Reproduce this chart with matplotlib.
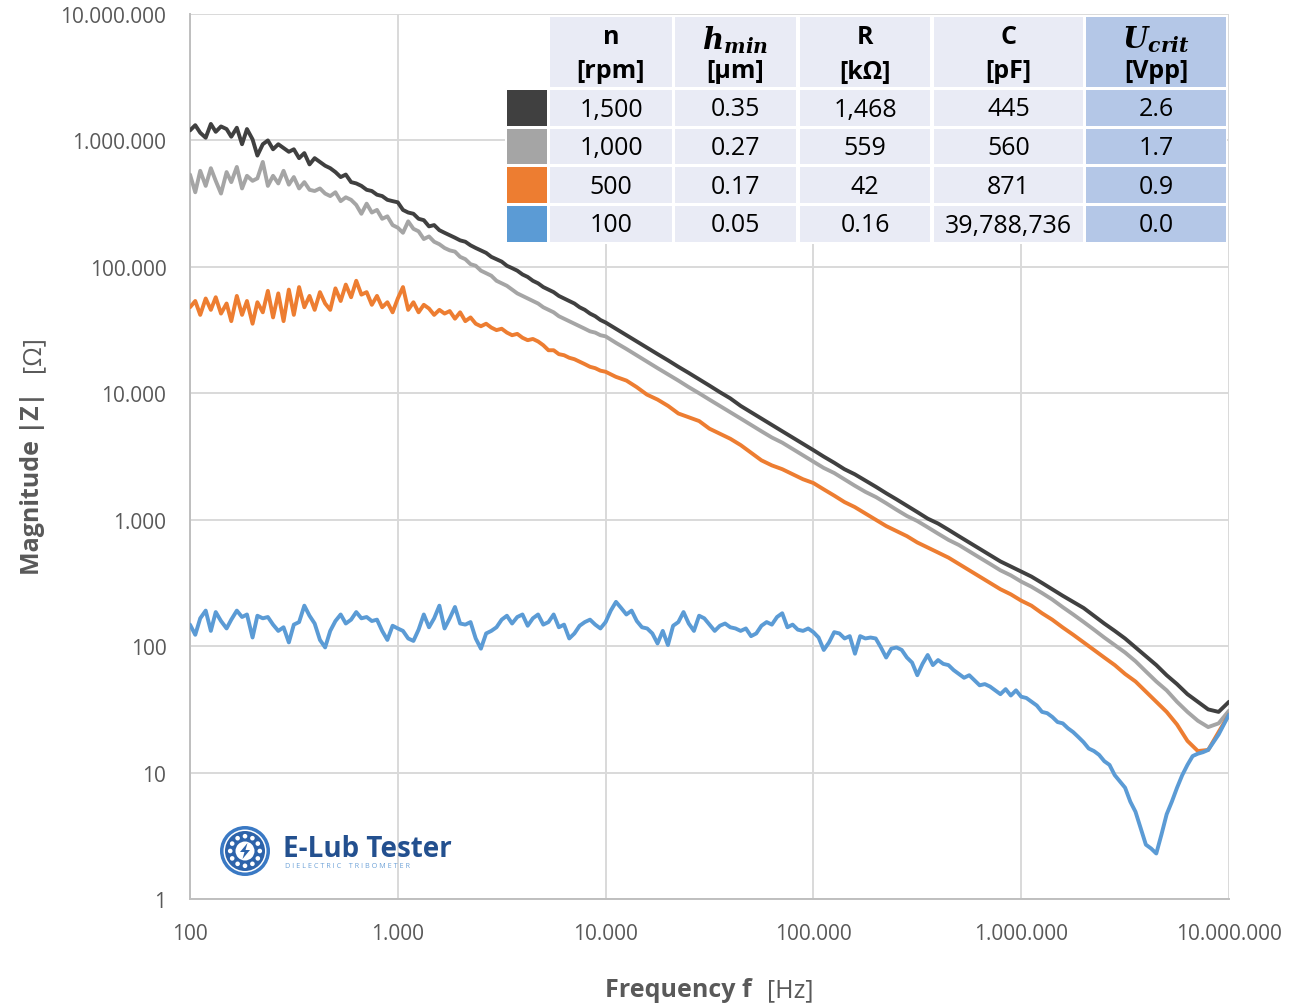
import numpy as np
import matplotlib
matplotlib.use("Agg")
import matplotlib.pyplot as plt
from matplotlib.patches import Rectangle, Circle, Polygon
from matplotlib.ticker import FixedLocator, FixedFormatter, NullLocator

# ---------------- data ----------------
# measured sweep frequencies [Hz] (grid used for 1,500 / 1,000 / 500 rpm)
freq = [
    100, 106, 112, 119, 126, 133, 141, 150, 158, 168,
    178, 188, 200, 211, 224, 237, 251, 266, 282, 299,
    316, 335, 355, 376, 398, 422, 447, 473, 501, 531,
    562, 596, 631, 668, 708, 750, 794, 841, 891, 944,
    1000, 1059, 1122, 1189, 1259, 1334, 1413, 1496, 1585, 1679,
    1778, 1884, 1995, 2113, 2239, 2371, 2512, 2661, 2818, 2985,
    3162, 3350, 3548, 3758, 3981, 4217, 4467, 4732, 5012, 5309,
    5623, 5957, 6310, 6683, 7079, 7499, 7943, 8414, 8913, 9441,
    10000,
    1.12e4, 1.26e4, 1.41e4, 1.58e4, 1.78e4, 2.00e4, 2.24e4, 2.51e4, 2.82e4, 3.16e4,
    3.55e4, 3.98e4, 4.47e4, 5.01e4, 5.62e4, 6.31e4, 7.08e4, 7.94e4, 8.91e4, 1.00e5,
    1.12e5, 1.26e5, 1.41e5, 1.58e5, 1.78e5, 2.00e5, 2.24e5, 2.51e5, 2.82e5, 3.16e5,
    3.55e5, 3.98e5, 4.47e5, 5.01e5, 5.62e5, 6.31e5, 7.08e5, 7.94e5, 8.91e5, 1.00e6,
    1.12e6, 1.26e6, 1.41e6, 1.58e6, 1.78e6, 2.00e6, 2.24e6, 2.51e6, 2.82e6, 3.16e6,
    3.55e6, 3.98e6, 4.47e6, 5.01e6, 5.62e6, 6.31e6, 7.08e6, 7.94e6, 8.91e6, 1.00e7,
]

# finer sweep frequencies [Hz] (grid used for 100 rpm)
freq_fine = [
    100, 106, 112, 119, 126, 133, 141, 150, 158, 168,
    178, 188, 200, 211, 224, 237, 251, 266, 282, 299,
    316, 335, 355, 376, 398, 422, 447, 473, 501, 531,
    562, 596, 631, 668, 708, 750, 794, 841, 891, 944,
    1000, 1059, 1122, 1189, 1259, 1334, 1413, 1496, 1585, 1679,
    1778, 1884, 1995, 2113, 2239, 2371, 2512, 2661, 2818, 2985,
    3162, 3350, 3548, 3758, 3981, 4217, 4467, 4732, 5012, 5309,
    5623, 5957, 6310, 6683, 7079, 7499, 7943, 8414, 8913, 9441,
    1.000e4,
    1.059e4, 1.122e4, 1.189e4, 1.259e4, 1.334e4, 1.413e4, 1.496e4, 1.585e4, 1.679e4, 1.778e4,
    1.884e4, 1.995e4, 2.113e4, 2.239e4, 2.371e4, 2.512e4, 2.661e4, 2.818e4, 2.985e4, 3.162e4,
    3.350e4, 3.548e4, 3.758e4, 3.981e4, 4.217e4, 4.467e4, 4.732e4, 5.012e4, 5.309e4, 5.623e4,
    5.957e4, 6.310e4, 6.683e4, 7.079e4, 7.499e4, 7.943e4, 8.414e4, 8.913e4, 9.441e4, 1.000e5,
    1.059e5, 1.122e5, 1.189e5, 1.259e5, 1.334e5, 1.413e5, 1.496e5, 1.585e5, 1.679e5, 1.778e5,
    1.884e5, 1.995e5, 2.113e5, 2.239e5, 2.371e5, 2.512e5, 2.661e5, 2.818e5, 2.985e5, 3.162e5,
    3.350e5, 3.548e5, 3.758e5, 3.981e5, 4.217e5, 4.467e5, 4.732e5, 5.012e5, 5.309e5, 5.623e5,
    5.957e5, 6.310e5, 6.683e5, 7.079e5, 7.499e5, 7.943e5, 8.414e5, 8.913e5, 9.441e5, 1.000e6,
    1.059e6, 1.122e6, 1.189e6, 1.259e6, 1.334e6, 1.413e6, 1.496e6, 1.585e6, 1.679e6, 1.778e6,
    1.884e6, 1.995e6, 2.113e6, 2.239e6, 2.371e6, 2.512e6, 2.661e6, 2.818e6, 2.985e6, 3.162e6,
    3.350e6, 3.548e6, 3.758e6, 3.981e6, 4.217e6, 4.467e6, 4.732e6, 5.012e6, 5.309e6, 5.623e6,
    5.957e6, 6.310e6, 6.683e6, 7.079e6, 7.499e6, 7.943e6, 8.414e6, 8.913e6, 9.441e6, 1.000e7,
]

# |Z| [Ohm] at 1,500 rpm (on freq)
z_1500 = [
    1.20e6, 1.32e6, 1.15e6, 1.05e6, 1.35e6, 1.17e6, 1.29e6, 1.23e6, 1.07e6, 1.26e6,
    9.33e5, 1.23e6, 1.02e6, 7.59e5, 9.33e5, 1.00e6, 8.51e5, 9.33e5, 8.71e5, 8.13e5,
    8.51e5, 7.24e5, 7.94e5, 6.46e5, 7.24e5, 6.76e5, 6.31e5, 6.03e5, 5.62e5, 5.13e5,
    5.37e5, 4.68e5, 4.57e5, 4.37e5, 4.07e5, 3.98e5, 3.72e5, 3.63e5, 3.39e5, 3.31e5,
    3.24e5, 2.82e5, 2.69e5, 2.63e5, 2.40e5, 2.34e5, 2.09e5, 2.14e5, 1.95e5, 1.86e5,
    1.78e5, 1.70e5, 1.62e5, 1.58e5, 1.48e5, 1.41e5, 1.35e5, 1.29e5, 1.20e5, 1.15e5,
    1.10e5, 1.02e5, 9.77e4, 9.33e4, 8.71e4, 8.32e4, 7.76e4, 7.41e4, 6.92e4, 6.61e4,
    6.31e4, 5.89e4, 5.62e4, 5.37e4, 5.13e4, 4.79e4, 4.57e4, 4.27e4, 4.07e4, 3.80e4,
    3.63e4,
    3.24e4, 2.88e4, 2.57e4, 2.29e4, 2.04e4, 1.82e4, 1.62e4, 1.45e4, 1.29e4, 1.15e4,
    1.02e4, 9.12e3, 7.94e3, 7.08e3, 6.31e3, 5.62e3, 5.01e3, 4.47e3, 3.98e3, 3.55e3,
    3.16e3, 2.82e3, 2.51e3, 2.29e3, 2.04e3, 1.82e3, 1.62e3, 1.45e3, 1.29e3, 1.15e3,
    1.02e3, 933, 832, 741, 661, 589, 525, 468, 427, 389,
    355, 316, 282, 251, 224, 200, 174, 151, 132, 115,
    97.7, 83.2, 70.8, 58.9, 50.1, 41.7, 36.3, 31.6, 30.2, 36.3,
]

# |Z| [Ohm] at 1,000 rpm (on freq)
z_1000 = [
    5.37e5, 3.89e5, 5.75e5, 4.37e5, 6.03e5, 4.79e5, 3.80e5, 5.62e5, 4.68e5, 6.17e5,
    4.17e5, 5.25e5, 4.79e5, 5.01e5, 6.76e5, 4.37e5, 5.25e5, 4.57e5, 5.75e5, 4.47e5,
    5.13e5, 4.17e5, 4.68e5, 4.07e5, 3.98e5, 4.17e5, 3.80e5, 3.63e5, 3.89e5, 3.31e5,
    3.55e5, 3.39e5, 3.09e5, 2.63e5, 3.16e5, 2.69e5, 2.82e5, 2.40e5, 2.51e5, 2.14e5,
    2.04e5, 1.86e5, 2.29e5, 2.00e5, 1.91e5, 1.66e5, 1.74e5, 1.58e5, 1.51e5, 1.41e5,
    1.35e5, 1.32e5, 1.20e5, 1.15e5, 1.05e5, 1.02e5, 9.33e4, 8.91e4, 8.51e4, 7.76e4,
    7.41e4, 7.08e4, 6.61e4, 6.17e4, 5.89e4, 5.62e4, 5.37e4, 5.13e4, 4.79e4, 4.57e4,
    4.37e4, 4.07e4, 3.89e4, 3.72e4, 3.55e4, 3.39e4, 3.24e4, 3.09e4, 3.02e4, 2.88e4,
    2.82e4,
    2.51e4, 2.24e4, 2.00e4, 1.78e4, 1.58e4, 1.41e4, 1.26e4, 1.12e4, 1.00e4, 8.91e3,
    7.94e3, 7.08e3, 6.31e3, 5.62e3, 5.01e3, 4.47e3, 4.07e3, 3.63e3, 3.24e3, 2.88e3,
    2.57e3, 2.34e3, 2.09e3, 1.86e3, 1.66e3, 1.51e3, 1.35e3, 1.20e3, 1.07e3, 977,
    871, 776, 692, 631, 562, 501, 447, 398, 363, 324,
    295, 263, 234, 204, 178, 155, 135, 117, 102, 89.1,
    75.9, 63.1, 52.5, 44.7, 36.3, 30.2, 25.7, 22.9, 24.5, 30.9,
]

# |Z| [Ohm] at 500 rpm (on freq)
z_500 = [
    4.79e4, 5.37e4, 4.17e4, 5.62e4, 4.57e4, 5.75e4, 4.27e4, 5.13e4, 3.72e4, 5.89e4,
    4.17e4, 5.37e4, 3.55e4, 5.25e4, 4.37e4, 6.46e4, 3.98e4, 6.17e4, 3.72e4, 6.61e4,
    4.17e4, 6.92e4, 4.79e4, 5.89e4, 4.57e4, 6.31e4, 5.13e4, 4.57e4, 6.76e4, 5.37e4,
    7.24e4, 5.75e4, 7.76e4, 6.03e4, 6.31e4, 5.01e4, 5.89e4, 4.79e4, 5.25e4, 4.37e4,
    5.62e4, 6.92e4, 4.57e4, 5.25e4, 4.37e4, 5.01e4, 4.68e4, 4.17e4, 4.57e4, 4.27e4,
    4.47e4, 3.89e4, 4.37e4, 3.72e4, 3.98e4, 3.55e4, 3.39e4, 3.55e4, 3.31e4, 3.16e4,
    3.24e4, 3.02e4, 2.88e4, 2.95e4, 2.75e4, 2.63e4, 2.69e4, 2.57e4, 2.40e4, 2.19e4,
    2.19e4, 2.04e4, 2.00e4, 1.91e4, 1.86e4, 1.78e4, 1.70e4, 1.62e4, 1.58e4, 1.51e4,
    1.48e4,
    1.35e4, 1.26e4, 1.12e4, 9.77e3, 8.91e3, 7.94e3, 6.92e3, 6.46e3, 6.03e3, 5.25e3,
    4.79e3, 4.37e3, 3.89e3, 3.39e3, 2.95e3, 2.69e3, 2.51e3, 2.29e3, 2.09e3, 1.95e3,
    1.74e3, 1.55e3, 1.38e3, 1.26e3, 1.12e3, 1.00e3, 891, 813, 741, 661,
    603, 550, 501, 447, 398, 355, 316, 282, 257, 229,
    209, 182, 162, 141, 123, 107, 93.3, 81.3, 70.8, 60.3,
    52.5, 43.7, 36.3, 30.2, 24.0, 17.8, 14.8, 15.1, 20.9, 28.8,
]

# |Z| [Ohm] at 100 rpm (on freq_fine)
z_100 = [
    148, 123, 166, 191, 132, 186, 158, 138, 162, 191,
    170, 178, 117, 174, 166, 170, 148, 132, 141, 107,
    148, 155, 209, 174, 151, 112, 97.7, 132, 158, 178,
    151, 162, 186, 166, 170, 158, 162, 132, 112, 145,
    138, 132, 115, 110, 135, 178, 141, 166, 209, 138,
    166, 204, 151, 148, 155, 115, 95.5, 126, 132, 141,
    162, 174, 151, 170, 178, 145, 166, 178, 148, 155,
    178, 141, 148, 115, 126, 145, 155, 162, 148, 138,
    155,
    191, 224, 200, 178, 191, 158, 141, 138, 126, 105,
    132, 102, 145, 155, 186, 151, 132, 174, 166, 148,
    132, 145, 151, 141, 138, 132, 138, 120, 126, 145,
    155, 148, 170, 182, 141, 148, 135, 132, 138, 129,
    117, 93.3, 107, 129, 126, 115, 120, 87.1, 120, 115,
    117, 115, 97.7, 81.3, 95.5, 97.7, 93.3, 81.3, 74.1, 58.9,
    72.4, 85.1, 70.8, 77.6, 72.4, 70.8, 64.6, 60.3, 56.2, 58.9,
    53.7, 49.0, 50.1, 47.9, 44.7, 41.7, 45.7, 40.7, 44.7, 39.8,
    38.9, 36.3, 33.9, 30.2, 29.5, 27.5, 25.1, 24.5, 22.4, 20.9,
    19.1, 17.4, 15.5, 14.8, 13.8, 12.3, 11.5, 9.55, 8.51, 7.59,
    5.89, 4.90, 3.63, 2.69, 2.51, 2.29, 3.24, 4.68, 5.89, 7.59,
    9.55, 11.5, 13.5, 14.1, 14.5, 15.1, 17.4, 20.0, 24.0, 28.8,
]

series_names = ["1,500 rpm", "1,000 rpm", "500 rpm", "100 rpm"]
series_colors = ["#404040", "#a5a5a5", "#ed7d31", "#5b9bd5"]

x_ticks = [1e2, 1e3, 1e4, 1e5, 1e6, 1e7]
x_tick_labels = ["100", "1.000", "10.000", "100.000", "1.000.000", "10.000.000"]
y_ticks = [1, 10, 1e2, 1e3, 1e4, 1e5, 1e6, 1e7]
y_tick_labels = ["1", "10", "100", "1.000", "10.000", "100.000", "1.000.000", "10.000.000"]

# table
n_rpm = ["1,500", "1,000", "500", "100"]
h_min_um = ["0.35", "0.27", "0.17", "0.05"]
R_kohm = ["1,468", "559", "42", "0.16"]
C_pF = ["445", "560", "871", "39,788,736"]
U_crit_vpp = ["2.6", "1.7", "0.9", "0.0"]

# ---------------- figure ----------------
W, H = 1309, 1004
plt.rcParams["mathtext.fontset"] = "dejavuserif"
fig = plt.figure(figsize=(W / 100, H / 100), dpi=100)
fig.patch.set_facecolor("white")

def fx(px):
    return px / W

def fy(py):
    return 1 - py / H

ax = fig.add_axes([fx(190), fy(900), fx(1229) - fx(190), fy(15) - fy(900)])
ax.set_xscale("log")
ax.set_yscale("log")
ax.set_xlim(1e2, 1e7)
ax.set_ylim(1, 1e7)

xs = [freq, freq, freq, freq_fine]
zs = [z_1500, z_1000, z_500, z_100]
for x, z, c, name in zip(xs, zs, series_colors, series_names):
    ax.plot(x, z, color=c, lw=2.8, label=name, solid_joinstyle="round",
            solid_capstyle="round", zorder=3)

ax.xaxis.set_major_locator(FixedLocator(x_ticks))
ax.xaxis.set_major_formatter(FixedFormatter(x_tick_labels))
ax.yaxis.set_major_locator(FixedLocator(y_ticks))
ax.yaxis.set_major_formatter(FixedFormatter(y_tick_labels))
ax.xaxis.set_minor_locator(NullLocator())
ax.yaxis.set_minor_locator(NullLocator())

ax.tick_params(axis="both", length=0)
ax.tick_params(axis="x", pad=17)
ax.tick_params(axis="y", pad=17)
for lab in ax.get_xticklabels() + ax.get_yticklabels():
    lab.set_fontfamily("Open Sans")
    lab.set_fontsize(15)
    lab.set_color("#595959")

ax.grid(True, which="major", color="#d9d9d9", lw=1.4, zorder=0)
ax.set_axisbelow(True)
for s in ["top", "right"]:
    ax.spines[s].set_visible(False)
for s in ["left", "bottom"]:
    ax.spines[s].set_color("#bfbfbf")
    ax.spines[s].set_linewidth(1.4)

# axis titles (bold + regular parts)
lab_col = "#595959"
fig.text(fx(752), fy(997), "Frequency f", ha="right", va="baseline",
         fontsize=18, fontweight="bold", color=lab_col, family="Open Sans")
fig.text(fx(767), fy(997), "[Hz]", ha="left", va="baseline",
         fontsize=18, color=lab_col, family="Open Sans")
fig.text(fx(33), fy(392), "Magnitude |Z|", ha="center", va="top", rotation=90,
         fontsize=18, fontweight="bold", color=lab_col, family="Open Sans")
fig.text(fx(33), fy(372), "[Ω]", ha="center", va="bottom", rotation=90,
         fontsize=18, color=lab_col, family="Open Sans")

# ---------------- table ----------------
tax = fig.add_axes([fx(505), fy(245), fx(1227) - fx(505), fy(16) - fy(245)])
tax.set_xlim(505, 1227)
tax.set_ylim(245, 16)
tax.axis("off")
tax.add_patch(Rectangle((505, 16), 722, 229, fc="white", ec="none"))

cols = [(507, 547), (550, 672), (675, 796), (800, 930), (934, 1083), (1086, 1226)]
rows = [(18, 88), (91, 127), (130, 165), (168, 204), (207, 243)]
cell_bg = "#e9ebf5"
u_bg = "#b4c7e7"

headers_top = ["n", r"$\mathbfit{h}_{\mathbfit{min}}$", "R", "C", r"$\mathbfit{U}_{\mathbfit{crit}}$"]
headers_bot = ["[rpm]", "[µm]", "[kΩ]", "[pF]", "[Vpp]"]
tfont = dict(family="Open Sans", fontsize=18, color="black")

for ci in range(1, 6):
    x0, x1 = cols[ci]
    y0, y1 = rows[0]
    bg = u_bg if ci == 5 else cell_bg
    tax.add_patch(Rectangle((x0, y0), x1 - x0, y1 - y0, fc=bg, ec="none"))
    xc = (x0 + x1) / 2
    top = headers_top[ci - 1]
    if top.startswith("$"):
        tax.text(xc, 40, top, ha="center", va="center", fontsize=21, color="black")
    else:
        tax.text(xc, 38, top, ha="center", va="center", fontweight="bold", **tfont)
    tax.text(xc, 72, headers_bot[ci - 1], ha="center", va="center", fontweight="bold", **tfont)

table_cols = [n_rpm, h_min_um, R_kohm, C_pF, U_crit_vpp]
for ri in range(4):
    y0, y1 = rows[ri + 1]
    x0, x1 = cols[0]
    tax.add_patch(Rectangle((x0, y0), x1 - x0, y1 - y0, fc=series_colors[ri], ec="none"))
    for ci in range(1, 6):
        x0, x1 = cols[ci]
        bg = u_bg if ci == 5 else cell_bg
        tax.add_patch(Rectangle((x0, y0), x1 - x0, y1 - y0, fc=bg, ec="none"))
        tax.text((x0 + x1) / 2, (y0 + y1) / 2 + 1, table_cols[ci - 1][ri],
                 ha="center", va="center", **tfont)

# ---------------- logo ----------------
lax = fig.add_axes([fx(215), fy(882), fx(60), 60 / H])
lax.set_xlim(-30, 30)
lax.set_ylim(-30, 30)
lax.set_aspect("equal")
lax.axis("off")
lax.add_patch(Circle((0, 0), 25, fc="#3a79c4", ec="none"))
lax.add_patch(Circle((0, 0), 21.5, fc="white", ec="none"))
lax.add_patch(Circle((0, 0), 20, fc="#2d63aa", ec="none"))
for k in range(12):
    a = 2 * np.pi * k / 12
    lax.add_patch(Circle((14.8 * np.cos(a), 14.8 * np.sin(a)), 2.3, fc="white", ec="none"))
lax.add_patch(Circle((0, 0), 9.5, fc="white", ec="none"))
lax.add_patch(Polygon([(2.5, 8), (-5, -1), (-0.5, -1), (-2.5, -8), (5, 1), (0.5, 1)],
                      closed=True, fc="#2d63aa", ec="none"))

fig.text(fx(283), fy(857), "E-Lub Tester", ha="left", va="baseline",
         fontsize=20, fontweight="bold", color="#23508f", family="Open Sans")
fig.text(fx(285), fy(868), "D I E L E C T R I C    T R I B O M E T E R", ha="left",
         va="baseline", fontsize=5.2, color="#6fa3d8", family="Open Sans")

fig.savefig("out.png", dpi=100, facecolor="white")
